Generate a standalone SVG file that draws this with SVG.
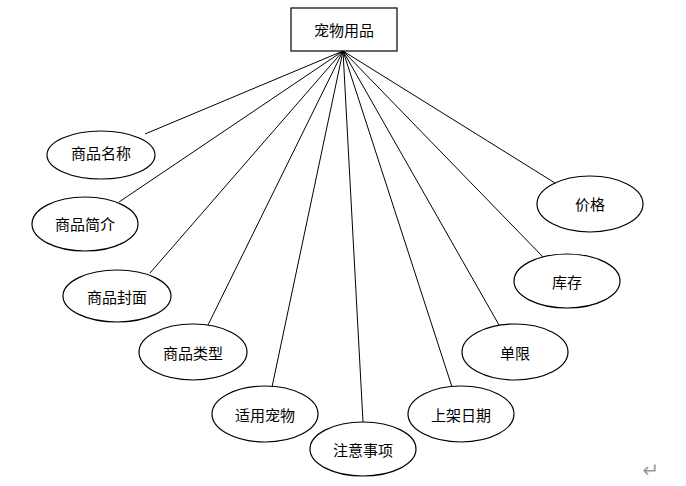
<svg xmlns="http://www.w3.org/2000/svg" width="686" height="486" viewBox="0 0 686 486">
<style>
.n{fill:#fff;stroke:#000;stroke-width:1.2}
.t{font-family:"Noto Sans CJK SC","Noto Sans",sans-serif;font-size:15px;fill:#000;text-anchor:middle;dominant-baseline:central}
.c line{stroke:#000;stroke-width:1}
</style>
<rect width="686" height="486" fill="#fff"/>
<g class="c" id="connectors">
<line x1="343" y1="51" x2="145" y2="134"/>
<line x1="343" y1="51" x2="119" y2="202"/>
<line x1="343" y1="51" x2="150" y2="273"/>
<line x1="343" y1="51" x2="208" y2="325"/>
<line x1="343" y1="51" x2="272" y2="387"/>
<line x1="343" y1="51" x2="363" y2="422"/>
<line x1="343" y1="51" x2="452" y2="387"/>
<line x1="343" y1="51" x2="499" y2="325"/>
<line x1="343" y1="51" x2="543" y2="257"/>
<line x1="343" y1="51" x2="555" y2="183"/>
</g>
<g id="root"><rect class="n" x="291" y="8" width="106" height="43"/><text class="t" x="344" y="29">宠物用品</text></g>
<g id="name"><ellipse class="n" cx="101" cy="155" rx="54" ry="24"/><text class="t" x="101" y="152">商品名称</text></g>
<g id="intro"><ellipse class="n" cx="85" cy="224" rx="53" ry="27"/><text class="t" x="85" y="223">商品简介</text></g>
<g id="cover"><ellipse class="n" cx="117" cy="296" rx="54" ry="26"/><text class="t" x="117" y="296">商品封面</text></g>
<g id="type"><ellipse class="n" cx="193" cy="352" rx="54" ry="28"/><text class="t" x="193" y="352">商品类型</text></g>
<g id="pet"><ellipse class="n" cx="265" cy="414" rx="53" ry="28"/><text class="t" x="265" y="414">适用宠物</text></g>
<g id="notice"><ellipse class="n" cx="363" cy="449" rx="53" ry="27"/><text class="t" x="363" y="449">注意事项</text></g>
<g id="date"><ellipse class="n" cx="461" cy="414" rx="53" ry="28"/><text class="t" x="461" y="414">上架日期</text></g>
<g id="limit"><ellipse class="n" cx="515" cy="352" rx="53" ry="28"/><text class="t" x="515" y="352">单限</text></g>
<g id="stock"><ellipse class="n" cx="567" cy="281" rx="53" ry="27"/><text class="t" x="567" y="281">库存</text></g>
<g id="price"><ellipse class="n" cx="590" cy="204" rx="53" ry="28"/><text class="t" x="590" y="203">价格</text></g>
<text x="651" y="470" style="font-family:'DejaVu Sans',sans-serif;font-size:20px;fill:#999;text-anchor:middle;dominant-baseline:central">↵</text>
</svg>
